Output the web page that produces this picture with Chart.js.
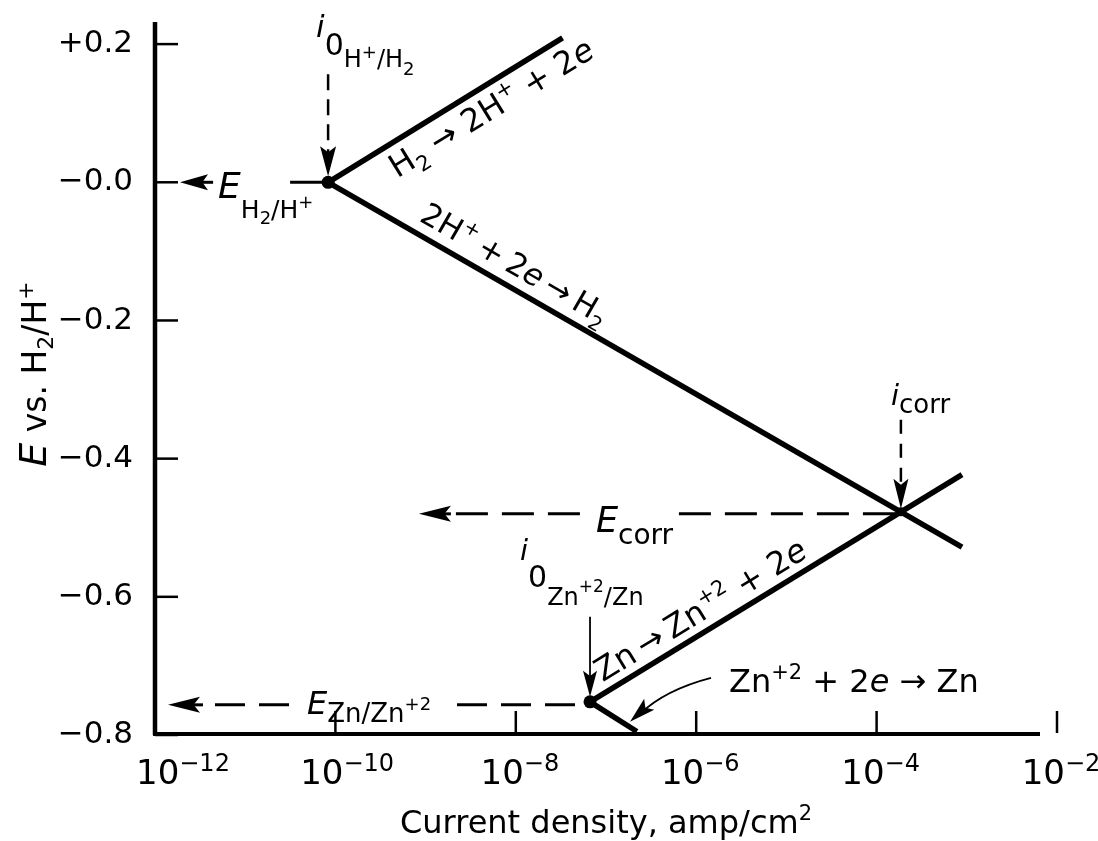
<!DOCTYPE html>
<html>
<head>
<meta charset="utf-8">
<script src="https://cdn.jsdelivr.net/npm/chart.js@4.4.1/dist/chart.umd.min.js"></script>
<style>
  html, body { margin: 0; padding: 0; background: #fff; }
  #wrap { width: 1098px; height: 841px; }
</style>
</head>
<body>
<div id="wrap"><canvas id="chart" width="1098" height="841"></canvas></div>
<script>
// axis ticks
const xTicks = [1e-12, 1e-10, 1e-8, 1e-6, 1e-4, 1e-2];
const xTickExponents = ['−12', '−10', '−8', '−6', '−4', '−2'];
const yTicks = [0.2, 0, -0.2, -0.4, -0.6, -0.8];
const yTickLabels = ['+0.2', '−0.0', '−0.2', '−0.4', '−0.6', '−0.8'];

// key points (current density, potential)
const i0H = 8.3e-11, eH = 0;
const icorr = 1.86e-4, ecorr = -0.477;
const i0Zn = 6.65e-8, eZn = -0.752;

// the four half-reaction lines
const hOxCurrent = [i0H, 3.3e-8];
const hOxPotential = [eH, 0.209];
const hRedCurrent = [i0H, 8.85e-4];
const hRedPotential = [eH, -0.528];
const znOxCurrent = [i0Zn, 8.85e-4];
const znOxPotential = [eZn, -0.423];
const znRedCurrent = [i0Zn, 2.2e-7];
const znRedPotential = [eZn, -0.795];

const FONT = '"DejaVu Sans", sans-serif';
const TS = '\u2009'; // thin space

function pts(xs, ys) {
    return xs.map((v, i) => ({x: v, y: ys[i]}));
}

function f(t, s, dy = 0, it = false) {
    return {t, s, dy, it};
}

function fontOf(p) {
    return (p.it ? 'italic ' : '') + p.s + 'px ' + FONT;
}

function rich(ctx, parts, x, y, align) {
    let w = 0;
    parts.forEach(p => { ctx.font = fontOf(p); w += ctx.measureText(p.t).width; });
    let cx = align === 'center' ? x - w / 2 : x;
    ctx.textAlign = 'left';
    ctx.textBaseline = 'alphabetic';
    parts.forEach(p => {
        ctx.font = fontOf(p);
        ctx.fillText(p.t, cx, y + p.dy);
        cx += ctx.measureText(p.t).width;
    });
}

function seg(ctx, x0, y0, x1, y1) {
    ctx.beginPath();
    ctx.moveTo(x0, y0);
    ctx.lineTo(x1, y1);
    ctx.stroke();
}

function head(ctx, tx, ty, ang, len, wid) {
    ctx.save();
    ctx.translate(tx, ty);
    ctx.rotate(ang);
    ctx.beginPath();
    ctx.moveTo(0, 0);
    ctx.lineTo(-len, -wid / 2);
    ctx.lineTo(-len * 0.8, 0);
    ctx.lineTo(-len, wid / 2);
    ctx.closePath();
    ctx.fill();
    ctx.restore();
}

function alongLine(ctx, x0, y0, x1, y1, s, off, parts) {
    const ang = Math.atan2(y1 - y0, x1 - x0);
    ctx.save();
    ctx.translate(x0, y0);
    ctx.rotate(ang);
    rich(ctx, parts, s, off, 'left');
    ctx.restore();
}

const decor = {
    id: 'decor',
    afterDatasetsDraw(chart) {
        const {ctx, chartArea: a, scales: {x, y}} = chart;
        const X = v => x.getPixelForValue(v);
        const Y = v => y.getPixelForValue(v);
        ctx.save();
        ctx.fillStyle = '#000';
        ctx.strokeStyle = '#000';

        // axes
        ctx.lineWidth = 4.5;
        seg(ctx, a.left, a.top, a.left, a.bottom);
        ctx.lineWidth = 4;
        seg(ctx, a.left - 2, a.bottom - 1, a.right - 17, a.bottom - 1);

        // inward ticks
        ctx.lineWidth = 2.5;
        yTicks.forEach(v => seg(ctx, a.left, Y(v), a.left + 23, Y(v)));
        xTicks.slice(1).forEach(v => seg(ctx, X(v), a.bottom - 2, X(v), a.bottom - 24));

        // x tick labels (10 with exponent)
        xTicks.forEach((v, i) => {
            ctx.font = '34px ' + FONT;
            const w10 = ctx.measureText('10').width;
            const left = Math.max(X(v) + 8 - w10, a.left - 19);
            rich(ctx, [f('10', 34), f(xTickExponents[i], 24, -13)], left, a.bottom + 49, 'left');
        });

        // axis titles
        rich(ctx, [f('Current density, amp/cm', 32), f('2', 21, -13)], (a.left + a.right) / 2, a.bottom + 98, 'center');
        ctx.save();
        ctx.translate(46, 374);
        ctx.rotate(-Math.PI / 2);
        rich(ctx, [f('E', 38, 0, true), f(' vs. H', 33), f('2', 22, 7), f('/H', 33), f('+', 22, -13)], 0, 0, 'center');
        ctx.restore();

        const H = {x: X(i0H), y: Y(eH)};
        const C = {x: X(icorr), y: Y(ecorr)};
        const Z = {x: X(i0Zn), y: Y(eZn)};

        // points
        [H, Z].forEach(p => { ctx.beginPath(); ctx.arc(p.x, p.y, 6.5, 0, Math.PI * 2); ctx.fill(); });
        ctx.beginPath(); ctx.arc(C.x, C.y, 4.5, 0, Math.PI * 2); ctx.fill();

        // i0 H+/H2
        rich(ctx, [f('i', 31, 0, true), f('0', 30, 18), f('H', 24, 30), f('+', 18, 21), f('/H', 24, 30), f('2', 18, 38)], H.x - 12, H.y - 145, 'left');
        ctx.lineWidth = 2.5;
        ctx.setLineDash([16, 9]);
        seg(ctx, H.x, H.y - 108, H.x, H.y - 30);
        ctx.setLineDash([]);
        head(ctx, H.x, H.y - 6, Math.PI / 2, 30, 16);

        // E H2/H+
        ctx.lineWidth = 3;
        seg(ctx, a.left + 40, H.y, H.x - 115, H.y);
        head(ctx, a.left + 25, H.y, Math.PI, 28, 16);
        seg(ctx, H.x - 38, H.y, H.x, H.y);
        rich(ctx, [f('E', 36, 0, true), f('H', 25, 20), f('2', 18, 26), f('/H', 25, 20), f('+', 18, 10)], H.x - 110, H.y + 16, 'left');

        // line labels
        const hO = {x: X(hOxCurrent[1]), y: Y(hOxPotential[1])};
        const hR = {x: X(hRedCurrent[1]), y: Y(hRedPotential[1])};
        const zO = {x: X(znOxCurrent[1]), y: Y(znOxPotential[1])};
        alongLine(ctx, H.x, H.y, hO.x, hO.y, 61, 33,
            [f('H', 32), f('2', 21, 8), f(' → 2H', 32), f('+', 21, -13), f(' + 2', 32), f('e', 32, 0, true)]);
        alongLine(ctx, H.x, H.y, hR.x, hR.y, 97, -12,
            [f('2H', 31), f('+', 20, -13), f(TS + '+' + TS + '2', 31), f('e', 31, 0, true), f(TS + '→' + TS + 'H', 31), f('2', 20, 8)]);
        alongLine(ctx, Z.x, Z.y, zO.x, zO.y, 21, -10,
            [f('Zn' + TS + '→' + TS + 'Zn', 32), f('+2', 21, -13), f(' + 2', 32), f('e', 32, 0, true)]);
        rich(ctx, [f('Zn', 32), f('+2', 21, -13), f(' + 2', 32), f('e', 32, 0, true), f(' → Zn', 32)], Z.x + 139, Z.y - 10, 'left');

        // leader arrow to Zn reduction line
        ctx.lineWidth = 1.8;
        const s0 = {x: Z.x + 121, y: Z.y - 24}, cp = {x: Z.x + 75, y: Z.y - 12}, tip = {x: Z.x + 40, y: Z.y + 20};
        ctx.beginPath();
        ctx.moveTo(s0.x, s0.y);
        ctx.quadraticCurveTo(cp.x, cp.y, tip.x + 10, tip.y - 8);
        ctx.stroke();
        head(ctx, tip.x, tip.y, Math.atan2(tip.y - cp.y, tip.x - cp.x), 26, 15);

        // i corr
        rich(ctx, [f('i', 29, 0, true), f('corr', 26, 8)], C.x - 10, C.y - 107, 'left');
        ctx.lineWidth = 2.5;
        ctx.setLineDash([14, 10]);
        seg(ctx, C.x, C.y - 92, C.x, C.y - 30);
        ctx.setLineDash([]);
        head(ctx, C.x, C.y - 3, Math.PI / 2, 30, 15);

        // E corr
        const ec = C.y + 2;
        ctx.lineWidth = 3;
        ctx.setLineDash([32, 14]);
        seg(ctx, C.x - 445, ec, C.x - 310, ec);
        seg(ctx, C.x - 222, ec, C.x - 6, ec);
        ctx.setLineDash([]);
        seg(ctx, C.x - 470, ec, C.x - 450, ec);
        head(ctx, C.x - 482, ec, Math.PI, 32, 16);
        rich(ctx, [f('E', 35, 0, true), f('corr', 28, 12)], C.x - 305, C.y + 20, 'left');

        // i0 Zn+2/Zn
        rich(ctx, [f('i', 29, 0, true), f('0', 30, 27), f('Zn', 24, 45), f('+2', 17, 32), f('/Zn', 24, 45)], Z.x - 70, Z.y - 142, 'left');
        ctx.lineWidth = 1.8;
        seg(ctx, Z.x, Z.y - 85, Z.x, Z.y - 20);
        head(ctx, Z.x, Z.y - 5, Math.PI / 2, 26, 14);

        // E Zn/Zn+2
        const ez = Z.y + 3;
        ctx.lineWidth = 3;
        ctx.setLineDash([30, 14]);
        seg(ctx, a.left + 60, ez, a.left + 135, ez);
        seg(ctx, Z.x - 133, ez, Z.x - 4, ez);
        ctx.setLineDash([]);
        seg(ctx, a.left + 35, ez, a.left + 48, ez);
        head(ctx, a.left + 13, ez, Math.PI, 32, 16);
        rich(ctx, [f('E', 32, 0, true), f('Zn/Zn', 26, 8), f('+2', 18, -4)], a.left + 152, Z.y + 12, 'left');

        ctx.restore();
    }
};

const lineStyle = {borderColor: '#000', borderWidth: 5.5, pointRadius: 0, tension: 0, fill: false, clip: false};

new Chart(document.getElementById('chart').getContext('2d'), {
    type: 'line',
    data: {
        datasets: [
            {label: 'H2 -> 2H+ + 2e', data: pts(hOxCurrent, hOxPotential), ...lineStyle},
            {label: '2H+ + 2e -> H2', data: pts(hRedCurrent, hRedPotential), ...lineStyle},
            {label: 'Zn -> Zn+2 + 2e', data: pts(znOxCurrent, znOxPotential), ...lineStyle},
            {label: 'Zn+2 + 2e -> Zn', data: pts(znRedCurrent, znRedPotential), ...lineStyle}
        ]
    },
    options: {
        responsive: false,
        animation: false,
        devicePixelRatio: 1,
        layout: {padding: {top: 22, right: 41, left: 0, bottom: 0}},
        plugins: {legend: {display: false}, tooltip: {enabled: false}},
        scales: {
            x: {
                type: 'logarithmic',
                min: 1e-12,
                max: 1e-2,
                afterBuildTicks: s => { s.ticks = xTicks.map(v => ({value: v})); },
                afterFit: s => { s.height = 106; s.paddingLeft = 0; s.paddingRight = 0; },
                ticks: {display: false},
                grid: {display: false},
                border: {display: false}
            },
            y: {
                type: 'linear',
                min: -0.8,
                max: 0.232,
                afterBuildTicks: s => { s.ticks = yTicks.map(v => ({value: v})); },
                afterFit: s => { s.width = 155; s.paddingTop = 0; s.paddingBottom = 0; },
                ticks: {
                    callback: (v, i) => yTickLabels[i],
                    font: {family: 'DejaVu Sans', size: 31},
                    color: '#000',
                    padding: 14
                },
                grid: {display: false},
                border: {display: false}
            }
        }
    },
    plugins: [decor]
});
</script>
</body>
</html>
